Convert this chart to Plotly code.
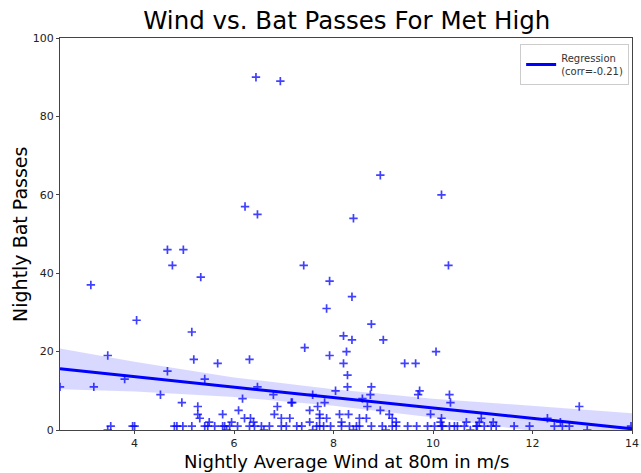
import plotly.graph_objects as go

# Nightly average wind speed at 80 m (m/s) and nightly bat passes
wind = [
    6.44, 6.93, 8.94, 10.17, 6.22, 6.47, 8.40, 4.66, 4.98, 4.76, 7.40, 10.31, 5.33, 7.92, 3.12,
    8.37, 7.86, 4.04, 8.76, 5.15, 8.20, 8.37, 9.00, 7.42, 8.26, 10.06, 3.46, 7.92, 5.19, 6.31,
    5.67, 8.20, 9.43, 9.65, 4.66, 8.28, 3.80, 5.41, 2.50, 3.18, 6.47, 8.28, 8.76, 8.04, 9.73,
    4.52, 6.79, 7.58, 8.74, 9.70, 10.33, 6.17, 8.58,
    4.95, 7.15, 7.17, 7.82, 10.35, 5.27, 6.87, 7.68, 8.68, 12.94, 6.09, 7.52, 8.94,
    5.27, 5.77, 6.81, 7.72, 8.12, 8.30, 9.12, 9.95,
    5.31, 6.21, 6.33, 6.95, 7.12, 7.72, 7.86, 8.52, 8.66, 9.18, 10.17, 10.97, 12.30,
    5.50, 5.95, 6.39, 7.52, 8.16, 9.26, 10.15, 10.67, 10.93, 11.21, 12.56,
    8.46, 11.27, 10.19, 13.98, 3.52, 3.96, 4.00, 4.80,
    4.85, 4.97, 5.15, 5.41, 5.47, 5.61, 5.77, 5.81, 5.91, 6.07, 6.31, 6.41, 6.55, 6.71, 6.95,
    7.05, 7.26, 7.36, 7.66, 7.72, 7.80, 7.94, 8.16, 8.32, 8.52, 8.76, 8.98, 9.18, 9.26, 9.49,
    9.67, 9.89, 10.03, 10.17, 10.33, 10.43, 10.49, 10.63, 10.87, 10.89, 11.03, 11.17, 11.63,
    11.94, 12.44, 12.60, 12.74,
    3.46, 13.10, 7.58, 8.40, 9.05, 5.85, 6.60, 10.75,
]
bat_passes = [
    90, 89, 65, 60, 57, 55, 54, 46, 46, 42, 42, 42, 39, 38, 37,
    34, 31, 28, 27, 25, 24, 23, 23, 21, 20, 20, 19, 19, 18, 18,
    17, 17, 17, 17, 15, 14, 13, 13, 11, 11, 11, 11, 11, 10, 10,
    9, 9, 9, 9, 9, 9, 8, 8,
    7, 7, 7, 7, 7, 6, 6, 6, 6, 6, 5, 5, 5,
    4, 4, 4, 4, 4, 4, 4, 4,
    3, 3, 3, 3, 3, 3, 3, 3, 3, 3, 3, 3, 3,
    2, 2, 2, 2, 2, 2, 2, 2, 2, 2, 2,
    1, 1, 1, 1, 1, 1, 1, 1,
    1, 1, 1, 1, 1, 1, 1, 1, 1, 1, 1, 1, 1, 1, 1,
    1, 1, 1, 1, 1, 1, 1, 1, 1, 1, 1, 1, 1, 1, 1,
    1, 1, 1, 1, 1, 1, 1, 1, 1, 1, 1, 1, 1,
    1, 1, 1, 1,
    0, 0, 0, 0, 0, 0, 0, 0,
]

# Fitted regression line and its confidence band
fit_x = [2.5, 4, 6, 8, 10, 12, 14]
fit_y = [15.6, 13.6, 10.9, 8.3, 5.6, 3.0, 0.3]
band_hi = [20.8, 17.4, 13.4, 10.4, 8.0, 6.2, 4.3]
band_lo = [10.4, 9.8, 8.4, 6.2, 3.2, -0.2, -3.7]

blue = "#0000ff"
font = "DejaVu Sans"

fig = go.Figure()

fig.add_trace(go.Scatter(
    x=fit_x, y=band_lo, mode="lines", line=dict(width=0),
    showlegend=False, hoverinfo="skip",
))
fig.add_trace(go.Scatter(
    x=fit_x, y=band_hi, mode="lines", line=dict(width=0),
    fill="tonexty", fillcolor="rgba(0,0,255,0.15)",
    showlegend=False, hoverinfo="skip",
))
fig.add_trace(go.Scatter(
    x=wind, y=bat_passes, mode="markers",
    marker=dict(symbol="cross-thin", size=6, color="rgba(0,0,255,0.75)",
                line=dict(width=1.7, color="rgba(0,0,255,0.75)")),
    showlegend=False,
))
fig.add_trace(go.Scatter(
    x=fit_x, y=fit_y, mode="lines",
    line=dict(color=blue, width=3),
    name="Regression<br>(corr=-0.21)",
))

axis_common = dict(
    showgrid=False, zeroline=False, automargin=False,
    showline=True, mirror=True, linecolor="#444", linewidth=1,
    ticks="outside", ticklen=3, tickcolor="#444",
    tickfont=dict(family=font, size=11, color="#222"),
)

fig.update_layout(
    width=641, height=473,
    margin=dict(l=60, r=9, t=38, b=43),
    paper_bgcolor="white", plot_bgcolor="white",
    title=dict(text="Wind vs. Bat Passes For Met High",
               font=dict(family=font, size=24.5, color="black"),
               x=0.541, xanchor="center", y=0.957, yanchor="middle"),
    xaxis=dict(range=[2.5, 14], tickvals=[4, 6, 8, 10, 12, 14], **axis_common),
    yaxis=dict(range=[0, 100], tickvals=[0, 20, 40, 60, 80, 100], **axis_common),
    legend=dict(x=0.995, y=0.985, xanchor="right", yanchor="top",
                bgcolor="white", bordercolor="#ccc", borderwidth=1,
                font=dict(family=font, size=10, color="#333")),
    annotations=[
        dict(text="Nightly Average Wind at 80m in m/s",
             xref="paper", yref="paper", x=0.5, y=-0.1097,
             xanchor="center", yanchor="bottom", showarrow=False, borderpad=0,
             font=dict(family=font, size=18, color="black")),
        dict(text="Nightly Bat Passes",
             xref="paper", yref="paper", x=-0.07, y=0.5,
             xanchor="center", yanchor="middle", textangle=-90, showarrow=False,
             font=dict(family=font, size=19, color="black")),
    ],
)

fig.write_html("out.html")
